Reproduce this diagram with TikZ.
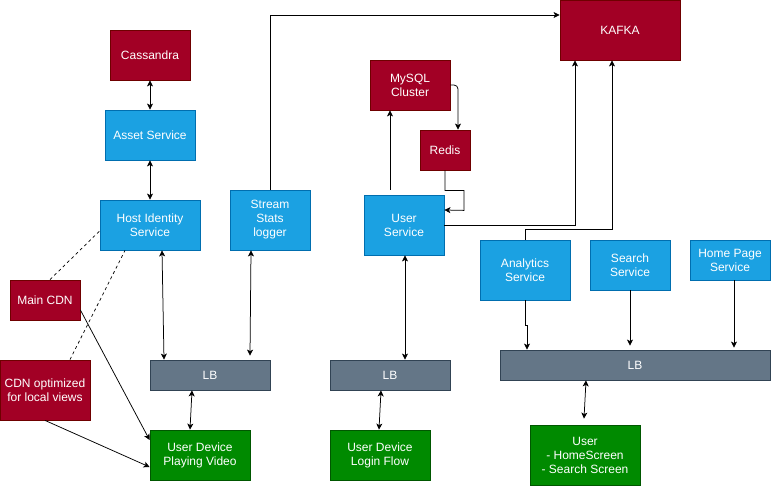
\documentclass[tikz,border=0pt]{standalone}
\usepackage{fontspec}
\usetikzlibrary{arrows.meta}
\setmainfont{Liberation Sans}
\definecolor{dbred}{HTML}{A20025}
\definecolor{dbline}{HTML}{6F0000}
\definecolor{svcblue}{HTML}{1BA1E2}
\definecolor{svcline}{HTML}{006EAF}
\definecolor{lbgray}{HTML}{647687}
\definecolor{lbline}{HTML}{314354}
\definecolor{devgreen}{HTML}{008A00}
\definecolor{devline}{HTML}{005700}
\begin{document}
\begin{tikzpicture}[
    x=1pt, y=-1pt,
    box/.style={draw, line width=0.8pt, inner sep=0pt, align=center, text=white, font=\fontsize{12}{14}\selectfont},
    dbbox/.style={box, fill=dbred, draw=dbline},
    svcbox/.style={box, fill=svcblue, draw=svcline},
    lbbox/.style={box, fill=lbgray, draw=lbline},
    devbox/.style={box, fill=devgreen, draw=devline},
    arrow/.style={->, line width=0.75pt, >={Stealth[length=6pt, width=6pt, inset=1.5pt]}},
    both/.style={<->, line width=0.75pt, >={Stealth[length=6pt, width=6pt, inset=1.5pt]}},
    cdnlink/.style={dashed, line width=0.7pt}
]
    \useasboundingbox (0,0) rectangle (778,486);

    % Video playback side
    \node[dbbox, minimum width=80pt, minimum height=50pt] (cass) at (150,55) {Cassandra};
    \node[svcbox, minimum width=90pt, minimum height=50pt] (asset) at (150,135) {Asset Service};
    \node[svcbox, minimum width=100pt, minimum height=50pt] (host) at (150,225) {Host Identity\\Service};
    \node[svcbox, minimum width=80pt, minimum height=60pt] (stream) at (270,220) {Stream\\Stats\\logger};
    \node[dbbox, minimum width=70pt, minimum height=40pt] (maincdn) at (45,300) {Main CDN};
    \node[dbbox, minimum width=90pt, minimum height=60pt] (cdnlocal) at (45,390) {CDN optimized\\for local views};
    \node[lbbox, minimum width=120pt, minimum height=30pt] (lbvideo) at (210,375) {LB};
    \node[devbox, minimum width=100pt, minimum height=50pt] (video) at (200,455) {User Device\\Playing Video};

    % Login side
    \node[dbbox, minimum width=80pt, minimum height=50pt] (mysql) at (410,85) {MySQL\\Cluster};
    \node[dbbox, minimum width=50pt, minimum height=40pt] (redis) at (445,150) {Redis};
    \node[svcbox, minimum width=80pt, minimum height=60pt] (user) at (404,225) {User\\Service};
    \node[lbbox, minimum width=120pt, minimum height=30pt] (lblogin) at (390,375) {LB};
    \node[devbox, minimum width=100pt, minimum height=50pt] (login) at (380,455) {User Device\\Login Flow};

    % Home screen side
    \node[dbbox, minimum width=120pt, minimum height=60pt] (kafka) at (620,30) {KAFKA};
    \node[svcbox, minimum width=90pt, minimum height=60pt] (analytics) at (525,270) {Analytics\\Service};
    \node[svcbox, minimum width=80pt, minimum height=50pt] (search) at (630,265) {Search\\Service};
    \node[svcbox, minimum width=80pt, minimum height=40pt] (home) at (730,260) {Home Page\\Service};
    \node[lbbox, minimum width=270pt, minimum height=30pt] (lbhome) at (635,365) {LB};
    \node[devbox, minimum width=110pt, minimum height=60pt] (userhome) at (585,455) {User\\- HomeScreen\\- Search Screen};

    % Arrows, video
    \draw[both] (cass) -- (asset);
    \draw[both] (asset) -- (host);
    \draw[both] ([xshift=12pt]host.south) -- ([xshift=-46pt]lbvideo.north);
    \draw[both] ([xshift=-19pt]stream.south) -- ([xshift=40pt, yshift=4pt]lbvideo.north);
    \draw[both] ([xshift=-18pt]lbvideo.south) -- ([xshift=-10pt]video.north);
    \draw[cdnlink] ([xshift=5pt]maincdn.north) -- ([yshift=-6pt]host.west);
    \draw[cdnlink] ([xshift=25pt]cdnlocal.north) -- ([xshift=-25pt]host.south);
    \draw[arrow] ([yshift=-10pt]maincdn.east) -- ([yshift=15pt]video.west);
    \draw[arrow] (cdnlocal.south) -- ([yshift=-12pt]video.west);
    \draw[arrow] (stream.north) |- ([yshift=15pt]kafka.west);

    % Arrows, login
    \draw[arrow] ([xshift=-14pt, yshift=5pt]user.north) -- ([xshift=-20pt]mysql.south);
    \draw[arrow, rounded corners=4pt] (mysql.east) -| ([xshift=13pt]redis.north);
    \draw[arrow] (redis.south) -- ++(0,20) -- ++(19,0) -- ++(0,20) -- ([yshift=15pt]user.east);
    \draw[arrow] (user.east) -| ([xshift=-45pt]kafka.south);
    \draw[both] ([xshift=1pt]user.south) -- ([xshift=15pt]lblogin.north);
    \draw[both] ([xshift=-9pt]lblogin.south) -- ([xshift=-1pt]login.north);

    % Arrows, home screen
    \draw[arrow] (analytics.north) -- ++(0,-10) -| ([xshift=-8pt]kafka.south);
    \draw[arrow] (analytics.south) -- ++(0,25) -| ([xshift=-108pt]lbhome.north);
    \draw[arrow] (search.south) -- ([yshift=4pt]search.south |- lbhome.north);
    \draw[arrow] ([xshift=4pt]home.south) -- ([xshift=4pt, yshift=2pt]home.south |- lbhome.north);
    \draw[both] ([xshift=-49pt]lbhome.south) -- ([xshift=-1pt, yshift=6pt]userhome.north);
\end{tikzpicture}
\end{document}
